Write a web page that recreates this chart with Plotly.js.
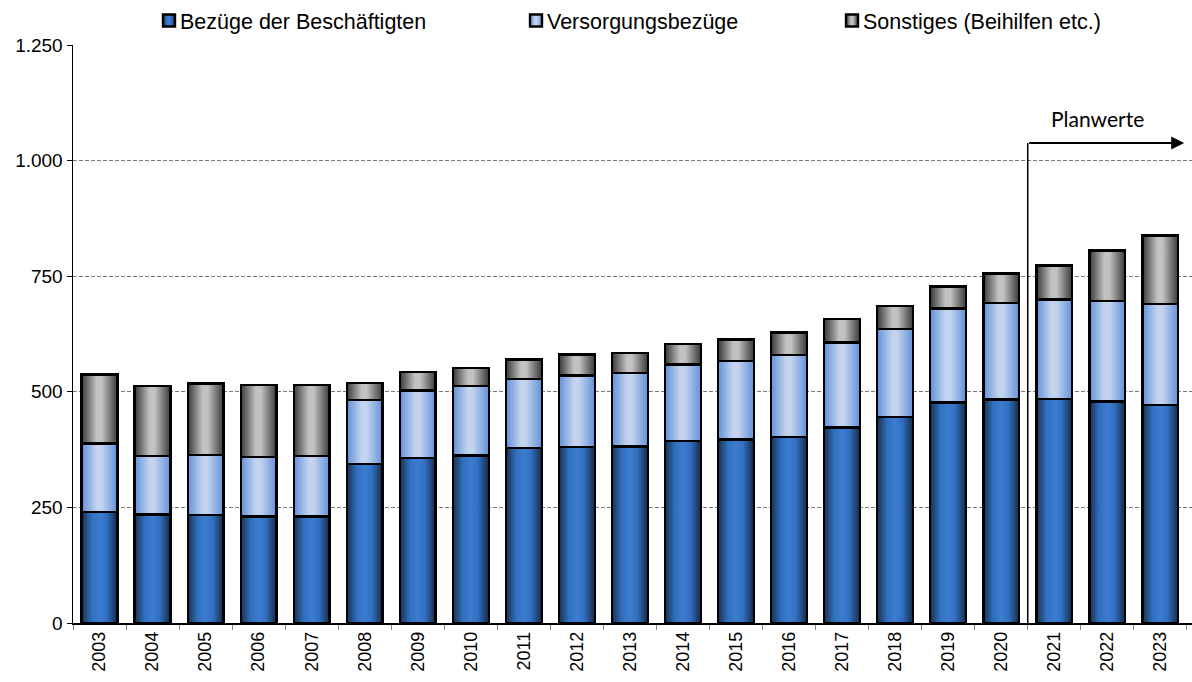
<!DOCTYPE html>
<html>
<head>
<meta charset="utf-8">
<script src="https://cdn.plot.ly/plotly-3.0.1.min.js"></script>
<style>
  html, body { margin: 0; padding: 0; background: #fff; }
  #chart { width: 1192px; height: 682px; }
</style>
</head>
<body>
<div id="chart"></div>
<script>
// ---- data ----
const years = ['2003','2004','2005','2006','2007','2008','2009','2010','2011','2012','2013',
               '2014','2015','2016','2017','2018','2019','2020','2021','2022','2023'];
const bezuegeBeschaeftigte = [240,235,234,230,230,344,357,362,379,381,382,393,397,402,423,446,477,483,485,479,472];
const versorgungsbezuege   = [148,126,129,129,131,138,146,151,149,154,159,166,170,177,184,190,203,209,215,217,218];
const sonstiges            = [149,151,155,156,154, 37, 40, 39, 42, 46, 43, 45, 46, 49, 50, 49, 48, 64, 73,110,148];
const seriesNames = ['Bezüge der Beschäftigten', 'Versorgungsbezüge', 'Sonstiges (Beihilfen etc.)'];
const yTicks = [0, 250, 500, 750, 1000, 1250];
const planLabel = 'Planwerte';
const planStartIndex = 17.5;   // boundary between 2020 and 2021
const planArrowLevel = 1038;
const planArrowEnd = 20.45;
const planLabelPos = [18.82, 1090];

const baseColors = ['#3a78c9', '#a9c3ec', '#a0a0a0'];
const legendWidths = [322, 271, 250];
const gradIds = ['gBlue', 'gLight', 'gGray'];
const gradStops = [
  [[0,'#18304f'],[0.28,'#3070bd'],[0.5,'#3b7cd2'],[0.7,'#3270c0'],[1,'#152a48']],
  [[0,'#6291d9'],[0.42,'#c3d3ee'],[0.56,'#c3d3ee'],[1,'#6291d9']],
  [[0,'#383838'],[0.42,'#c2c2c2'],[0.56,'#c2c2c2'],[1,'#3a3a3a']]
];

const valuesList = [bezuegeBeschaeftigte, versorgungsbezuege, sonstiges];

const traces = valuesList.map((vals, i) => ({
  type: 'bar',
  x: years,
  y: vals,
  name: seriesNames[i],
  legendwidth: legendWidths[i],
  marker: { color: baseColors[i], line: { color: '#000', width: 2.4 } },
  hoverinfo: 'x+y+name'
}));

const font = { family: '"Liberation Sans", Arial, sans-serif', color: '#000' };

const layout = {
  width: 1192, height: 682,
  margin: { l: 73, r: 0, t: 44, b: 59, pad: 0 },
  paper_bgcolor: '#fff', plot_bgcolor: '#fff',
  font: font,
  separators: ',.',
  barmode: 'stack',
  bargap: 0.325,
  showlegend: true,
  legend: {
    orientation: 'h', yanchor: 'middle', y: 1.0415, xanchor: 'left', x: (140 - 73) / 1119,
    traceorder: 'normal',
    font: { family: font.family, size: 21.5, color: '#000' },
    bgcolor: 'rgba(0,0,0,0)', borderwidth: 0, itemwidth: 30
  },
  xaxis: {
    type: 'category',
    tickangle: -90,
    tickfont: { family: font.family, size: 18, color: '#000' },
    ticks: 'outside', tickson: 'boundaries', ticklen: 5, tickcolor: '#888', tickwidth: 1,
    showline: true, linecolor: '#000', linewidth: 1.5,
    showgrid: false, zeroline: false, fixedrange: true
  },
  yaxis: {
    range: [0, 1250],
    tickvals: yTicks,
    tickformat: ',d',
    tickfont: { family: font.family, size: 19, color: '#000' },
    ticks: 'outside', ticklen: 5, tickcolor: '#000', tickwidth: 1,
    showline: true, linecolor: '#000', linewidth: 1.5,
    showgrid: true, gridcolor: '#7a7a7a', gridwidth: 1.2, griddash: '4px,2px',
    zeroline: false, fixedrange: true
  },
  shapes: [
    { type: 'line', xref: 'x', yref: 'y', x0: planStartIndex, x1: planStartIndex,
      y0: 0, y1: planArrowLevel, line: { color: '#000', width: 1.5 } }
  ],
  annotations: [
    { xref: 'x', yref: 'y', x: planArrowEnd, y: planArrowLevel,
      axref: 'x', ayref: 'y', ax: planStartIndex, ay: planArrowLevel,
      showarrow: true, arrowhead: 2, arrowsize: 1.3, arrowwidth: 2, arrowcolor: '#000', text: '' },
    { xref: 'x', yref: 'y', x: planLabelPos[0], y: planLabelPos[1], showarrow: false,
      text: planLabel, xanchor: 'center', yanchor: 'middle',
      font: { family: 'Lato, "Open Sans", sans-serif', size: 21, color: '#000' } }
  ]
};

function styleChart(gd) {
  const svg = gd.querySelector('.main-svg');
  const NS = 'http://www.w3.org/2000/svg';
  if (!document.getElementById(gradIds[0])) {
    let defs = svg.querySelector('defs');
    if (!defs) { defs = document.createElementNS(NS, 'defs'); svg.insertBefore(defs, svg.firstChild); }
    gradIds.forEach((id, i) => {
      const lg = document.createElementNS(NS, 'linearGradient');
      lg.setAttribute('id', id);
      lg.setAttribute('x1', '0'); lg.setAttribute('y1', '0');
      lg.setAttribute('x2', '1'); lg.setAttribute('y2', '0');
      gradStops[i].forEach(([o, c]) => {
        const s = document.createElementNS(NS, 'stop');
        s.setAttribute('offset', o); s.setAttribute('stop-color', c);
        lg.appendChild(s);
      });
      defs.appendChild(lg);
    });
  }
  gd.querySelectorAll('.barlayer .trace').forEach((t, i) => {
    t.querySelectorAll('path').forEach(p => { p.style.fill = 'url(#' + gradIds[i] + ')'; });
  });
  gd.querySelectorAll('.legendtext').forEach(txt => {
    const idx = seriesNames.indexOf(txt.textContent.trim());
    if (idx < 0) return;
    const g = txt.parentNode;
    const lp = g.querySelector('.legendpoints');
    if (!lp) return;
    lp.querySelectorAll('path').forEach(p => { p.style.fill = 'url(#' + gradIds[idx] + ')'; });
    if (!lp.getAttribute('data-shifted')) {
      const tr = lp.getAttribute('transform') || '';
      lp.setAttribute('transform', (tr + ' translate(9,0)').trim());
      lp.setAttribute('data-shifted', '1');
    }
  });
}

Plotly.newPlot('chart', traces, layout, { displayModeBar: false, staticPlot: true }).then(gd => {
  styleChart(gd);
  setTimeout(() => styleChart(gd), 50);
});
</script>
</body>
</html>
